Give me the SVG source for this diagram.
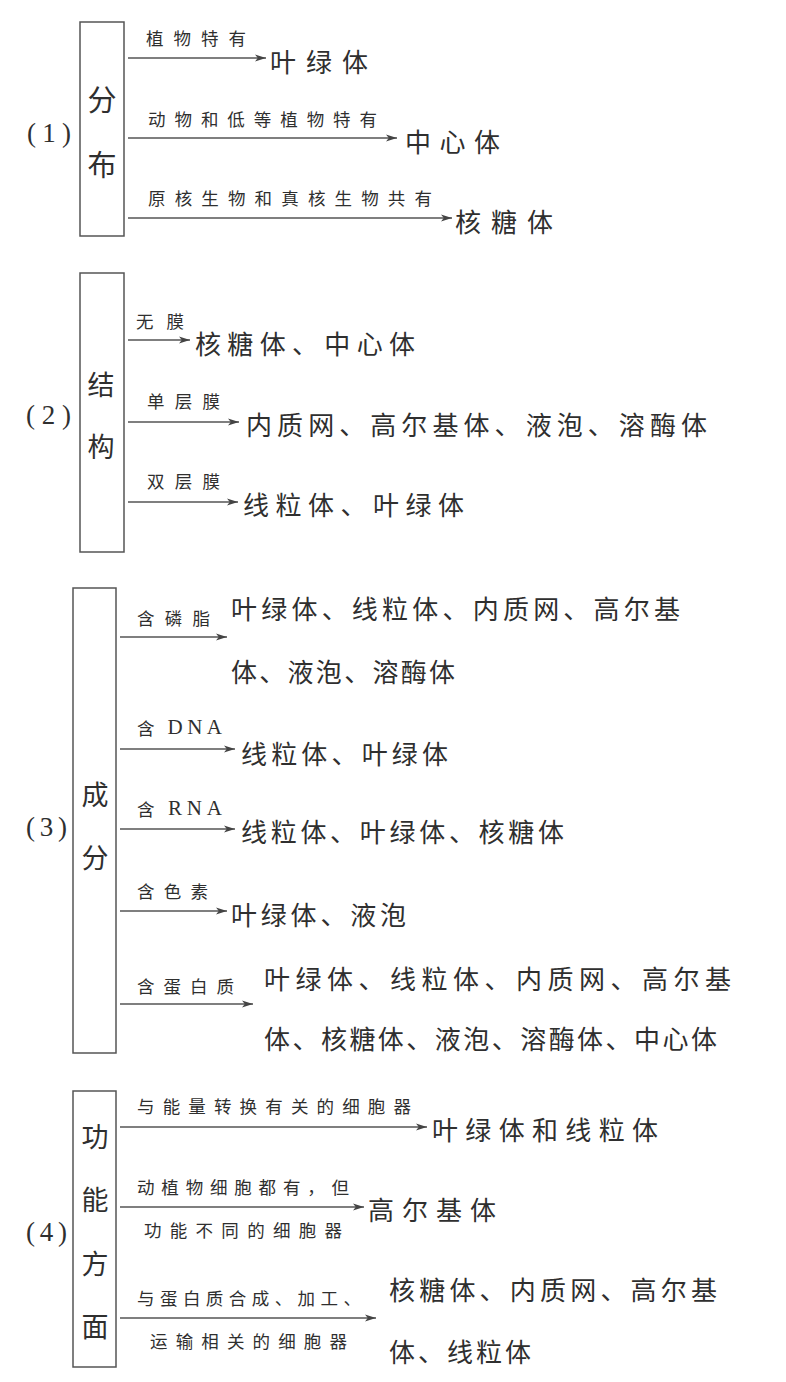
<svg xmlns="http://www.w3.org/2000/svg" width="786" height="1382" viewBox="0 0 786 1382">
<style>
text{font-family:"Noto Sans CJK SC","Noto Sans",sans-serif;fill:#2f2f2f;dominant-baseline:central}
.num{font-family:"Liberation Serif","Noto Sans CJK SC",serif;font-size:27px}
.node{font-size:27px;text-anchor:middle}
.lbl{font-size:17.5px}
.tgt{font-size:26px}
.en{font-family:"Liberation Serif",serif;font-size:21px}
.box{fill:none;stroke:#555;stroke-width:1.5}
.arr{stroke:#555;stroke-width:1.3;fill:none;marker-end:url(#ah)}
</style>
<defs>
<marker id="ah" viewBox="0 0 11 8" refX="11" refY="4" markerWidth="11" markerHeight="8" markerUnits="userSpaceOnUse" orient="auto">
<path d="M0,0.6 L11,4 L0,7.4 L2.8,4 z" fill="#444"/>
</marker>
</defs>
<rect width="786" height="1382" fill="#fff"/>

<g id="connectors">
<line class="arr" x1="128" y1="58" x2="266" y2="58"/>
<line class="arr" x1="128" y1="138" x2="397" y2="138"/>
<line class="arr" x1="128" y1="218" x2="452" y2="218"/>
<line class="arr" x1="128" y1="340" x2="190" y2="340"/>
<line class="arr" x1="128" y1="422" x2="239" y2="422"/>
<line class="arr" x1="128" y1="502" x2="238" y2="502"/>
<line class="arr" x1="120" y1="637" x2="227" y2="637"/>
<line class="arr" x1="120" y1="749" x2="235" y2="749"/>
<line class="arr" x1="120" y1="829" x2="235" y2="829"/>
<line class="arr" x1="120" y1="911" x2="227" y2="911"/>
<line class="arr" x1="120" y1="1004" x2="253" y2="1004"/>
<line class="arr" x1="120" y1="1127" x2="427" y2="1127"/>
<line class="arr" x1="120" y1="1207" x2="364" y2="1207"/>
<line class="arr" x1="120" y1="1318" x2="376" y2="1318"/>
</g>

<g id="sec1">
<text class="num" x="27" y="133" textLength="44" lengthAdjust="spacing">(1)</text>
<rect class="box" x="80" y="22" width="44" height="214"/>
<text class="node" x="102" y="98" style="font-size:29px">分</text>
<text class="node" x="102" y="163" style="font-size:29px">布</text>
<text class="lbl" x="146" y="37" textLength="100" lengthAdjust="spacing">植物特有</text>
<text class="lbl" x="148" y="118" textLength="229" lengthAdjust="spacing">动物和低等植物特有</text>
<text class="lbl" x="148" y="197" textLength="284" lengthAdjust="spacing">原核生物和真核生物共有</text>
<text class="tgt" x="270" y="60" textLength="98" lengthAdjust="spacing">叶绿体</text>
<text class="tgt" x="405" y="140" textLength="95" lengthAdjust="spacing">中心体</text>
<text class="tgt" x="455" y="220" textLength="98" lengthAdjust="spacing">核糖体</text>
</g>

<g id="sec2">
<text class="num" x="26" y="415" textLength="45" lengthAdjust="spacing">(2)</text>
<rect class="box" x="80" y="273" width="44" height="279"/>
<text class="node" x="101" y="383">结</text>
<text class="node" x="101" y="445">构</text>
<text class="lbl" x="136" y="320" textLength="48" lengthAdjust="spacing">无膜</text>
<text class="lbl" x="147" y="400" textLength="73" lengthAdjust="spacing">单层膜</text>
<text class="lbl" x="147" y="480" textLength="73" lengthAdjust="spacing">双层膜</text>
<text class="tgt" x="195" y="342" textLength="220" lengthAdjust="spacing">核糖体、中心体</text>
<text class="tgt" x="246" y="423" textLength="461" lengthAdjust="spacing">内质网、高尔基体、液泡、溶酶体</text>
<text class="tgt" x="243" y="503" textLength="221" lengthAdjust="spacing">线粒体、叶绿体</text>
</g>

<g id="sec3">
<text class="num" x="26" y="827" textLength="41" lengthAdjust="spacing">(3)</text>
<rect class="box" x="73" y="588" width="43" height="465"/>
<text class="node" x="95" y="793">成</text>
<text class="node" x="95" y="856">分</text>
<text class="lbl" x="137" y="617" textLength="73" lengthAdjust="spacing">含磷脂</text>
<text class="lbl" x="137" y="727" textLength="85" lengthAdjust="spacing">含 <tspan class="en">DNA</tspan></text>
<text class="lbl" x="137" y="808" textLength="85" lengthAdjust="spacing">含 <tspan class="en">RNA</tspan></text>
<text class="lbl" x="137" y="890" textLength="71" lengthAdjust="spacing">含色素</text>
<text class="lbl" x="137" y="985" textLength="97" lengthAdjust="spacing">含蛋白质</text>
<text class="tgt" x="231" y="607" textLength="449" lengthAdjust="spacing">叶绿体、线粒体、内质网、高尔基</text>
<text class="tgt" x="231" y="670" textLength="224" lengthAdjust="spacing">体、液泡、溶酶体</text>
<text class="tgt" x="241" y="752" textLength="207" lengthAdjust="spacing">线粒体、叶绿体</text>
<text class="tgt" x="241" y="830" textLength="323" lengthAdjust="spacing">线粒体、叶绿体、核糖体</text>
<text class="tgt" x="231" y="913" textLength="175" lengthAdjust="spacing">叶绿体、液泡</text>
<text class="tgt" x="264" y="977" textLength="467" lengthAdjust="spacing">叶绿体、线粒体、内质网、高尔基</text>
<text class="tgt" x="264" y="1037" textLength="453" lengthAdjust="spacing">体、核糖体、液泡、溶酶体、中心体</text>
</g>

<g id="sec4">
<text class="num" x="26" y="1232" textLength="41" lengthAdjust="spacing">(4)</text>
<rect class="box" x="73" y="1091" width="43" height="276"/>
<text class="node" x="95" y="1135">功</text>
<text class="node" x="95" y="1198">能</text>
<text class="node" x="95" y="1262">方</text>
<text class="node" x="95" y="1325">面</text>
<text class="lbl" x="137" y="1105" textLength="274" lengthAdjust="spacing">与能量转换有关的细胞器</text>
<text class="lbl" x="137" y="1186" textLength="212" lengthAdjust="spacing">动植物细胞都有，但</text>
<text class="lbl" x="144" y="1229" textLength="198" lengthAdjust="spacing">功能不同的细胞器</text>
<text class="lbl" x="137" y="1297" textLength="224" lengthAdjust="spacing">与蛋白质合成、加工、</text>
<text class="lbl" x="150" y="1340" textLength="197" lengthAdjust="spacing">运输相关的细胞器</text>
<text class="tgt" x="432" y="1128" textLength="226" lengthAdjust="spacing">叶绿体和线粒体</text>
<text class="tgt" x="368" y="1208" textLength="128" lengthAdjust="spacing">高尔基体</text>
<text class="tgt" x="389" y="1288" textLength="328" lengthAdjust="spacing">核糖体、内质网、高尔基</text>
<text class="tgt" x="389" y="1350" textLength="142" lengthAdjust="spacing">体、线粒体</text>
</g>
</svg>
